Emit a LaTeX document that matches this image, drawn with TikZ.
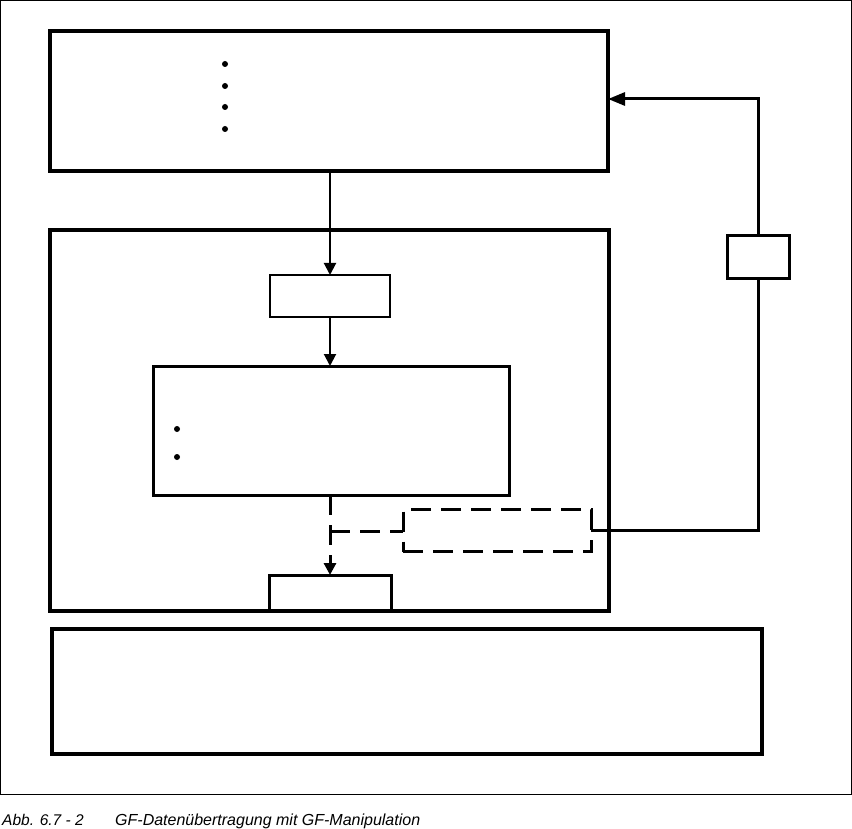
\documentclass[tikz,border=0pt]{standalone}
\usepackage{fontspec}
\setmainfont{Liberation Sans}
\usetikzlibrary{arrows.meta}
\begin{document}
\begin{tikzpicture}[x=1pt,y=-1pt,
  box/.style={draw, rectangle, inner sep=0pt, outer sep=0pt, line width=#1},
  box/.default=4pt,
  dbox/.style={draw, rectangle, inner sep=0pt, outer sep=0pt, line width=3pt, dash pattern=on 20pt off 10pt},
  arr/.style={line width=2pt, -{Triangle[length=12pt,width=12pt]}},
  darr/.style={line width=3pt, dash pattern=on 20pt off 10pt, -{Triangle[length=12pt,width=12pt]}},
  fb/.style={line width=3pt},
  fbarr/.style={line width=3pt, -{Triangle[length=17pt,width=13pt]}},
  dot/.style={circle, fill, inner sep=0pt, minimum size=6pt},
  captxt/.style={font=\fontsize{15.5}{18}\selectfont\itshape, anchor=base west, inner sep=0pt}
]
\useasboundingbox (0,0) rectangle (852,829);
\draw[line width=1pt] (0.5,0.5) rectangle (851,794);

% boxes
\node[box, minimum width=558pt, minimum height=140pt] (top) at (329,101) {};
\node[box, minimum width=559pt, minimum height=381pt] (mid) at (329.5,420.5) {};
\node[box=2pt, minimum width=120pt, minimum height=42pt] (s1) at (330,296) {};
\node[box=3pt, minimum width=356pt, minimum height=129pt] (inner) at (331,430.5) {};
\node[box=3pt, minimum width=122pt, minimum height=36pt] (s2) at (330,593) {};
\node[dbox, minimum width=188pt, minimum height=42pt] (db) at (497,530.5) {};
\node[box=3pt, minimum width=62pt, minimum height=43pt] (r) at (758,257.5) {};
\node[box, minimum width=710pt, minimum height=125pt] (bot) at (407,691.5) {};

% dots
\node[dot] (d1) at (225,64) {};
\node[dot] (d2) at (225,86) {};
\node[dot] (d3) at (225,107) {};
\node[dot] (d4) at (225,129) {};
\node[dot] (e1) at (177,429) {};
\node[dot] (e2) at (177,457) {};

% connectors
\draw[arr] (top.south -| s1.north) -- (s1.north);
\draw[arr] (s1.south) -- (s1.south |- inner.north);
\draw[darr] (inner.south -| s2.north) -- (s2.north);
\coordinate (j) at (330,531);
\draw[fb, dash pattern=on 20pt off 10pt] (j) -- (j -| db.west);
\draw[fb] (db.east) -- (db.east -| r.south) -- (r.south);
\coordinate (tip) at (top.east |- 0,99);
\draw[fbarr] (r.north) |- (tip);

% caption
\node[captxt] (c1) at (2,825) {Abb. 6.7 - 2};
\node[captxt, font=\fontsize{16}{18}\selectfont\itshape] (c2) at (115,825) {GF-Datenübertragung mit GF-Manipulation};
\end{tikzpicture}
\end{document}
